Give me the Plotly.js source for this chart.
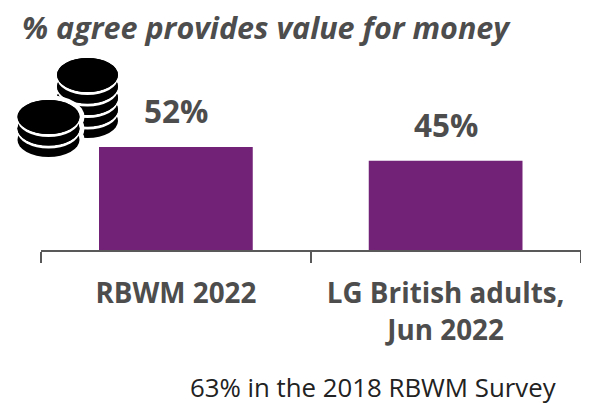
<!DOCTYPE html>
<html><head><meta charset="utf-8">
<script src="https://cdn.plot.ly/plotly-3.0.1.min.js"></script>
<style>html,body{margin:0;padding:0;background:#fff}#c{width:590px;height:404px}</style>
</head><body><div id="c"></div>
<script>
const categories = ["RBWM 2022", "LG British adults,<br>Jun 2022"];
const values = [52, 45];
const valueLabels = ["52%", "45%"];
const chartTitle = "% agree provides value for money";
const footnote = "63% in the 2018 RBWM Survey";
const W = 590, H = 404;
const font = "'Open Sans', sans-serif";
const ink = "#4d4d4d";
const px = v => v / W, py = v => 1 - v / H;
function ell(cx, cy, rx, ry, fill) {
  return {type:"circle", xref:"paper", yref:"paper", layer:"above",
    x0:px(cx-rx), x1:px(cx+rx), y0:py(cy+ry), y1:py(cy-ry), fillcolor:fill, line:{width:0}};
}
// decorative coin icon: centre x, top-coin centre y, radii, tiers below top, tier step
function stack(cx, cy, rx, ry, tiers, step, halo) {
  const out = [];
  if (halo) for (let k = tiers; k >= 0; k--) out.push(ell(cx, cy + k*step, rx + halo, ry + halo, "#fff"));
  for (let k = tiers; k >= 0; k--) {
    out.push(ell(cx, cy + k*step, rx, ry, "#000"));
    if (k > 0) out.push(ell(cx, cy + (k-1)*step + 3, rx, ry, "#fff"));
    if (k > 0) out.push(ell(cx, cy + (k-1)*step, rx, ry, "#000"));
  }
  return out;
}
const shapes = [...stack(87.5, 75, 30.5, 17, 4, 11.5, 0), ...stack(48.5, 117, 31, 17, 2, 11.5, 5)];
const valueNotes = categories.map((c, i) => ({xref:"x", yref:"y", x:c, y:values[i], yanchor:"bottom", yshift:13, showarrow:false,
  text:"<b>"+valueLabels[i]+"</b>", font:{family:font, size:31.5, color:ink}}));
Plotly.newPlot("c", [{
  type:"bar", x:categories, y:values, marker:{color:"#722277", line:{width:0}}, width:0.57, hoverinfo:"skip"
}], {
  width:W, height:H, paper_bgcolor:"#fff", plot_bgcolor:"#fff", showlegend:false,
  margin:{l:0, r:0, t:0, b:0},
  xaxis:{type:"category", domain:[41/W, 580.5/W], range:[-0.5,1.5], tickson:"boundaries", ticks:"outside", ticklen:11, tickwidth:1.5, tickcolor:"#595959",
    showline:true, linecolor:"#595959", linewidth:2, showgrid:false, zeroline:false,
    tickfont:{family:font, size:27.8, color:ink, weight:700}, ticklabelstandoff:18, automargin:false},
  yaxis:{range:[0,52], domain:[1-250/H, 1-147/H], visible:false, fixedrange:true},
  shapes:shapes,
  annotations:[...valueNotes,
   {xref:"paper", yref:"paper", x:px(20), y:py(27), xanchor:"left", yanchor:"middle", showarrow:false, text:"<b><i>"+chartTitle+"</i></b>", font:{family:font, size:30.5, color:ink}},
   {xref:"paper", yref:"paper", x:px(188), y:py(387), xanchor:"left", yanchor:"middle", showarrow:false, text:footnote, font:{family:font, size:25.8, color:"#222"}}
  ]
}, {displayModeBar:false, staticPlot:true});
</script></body></html>
